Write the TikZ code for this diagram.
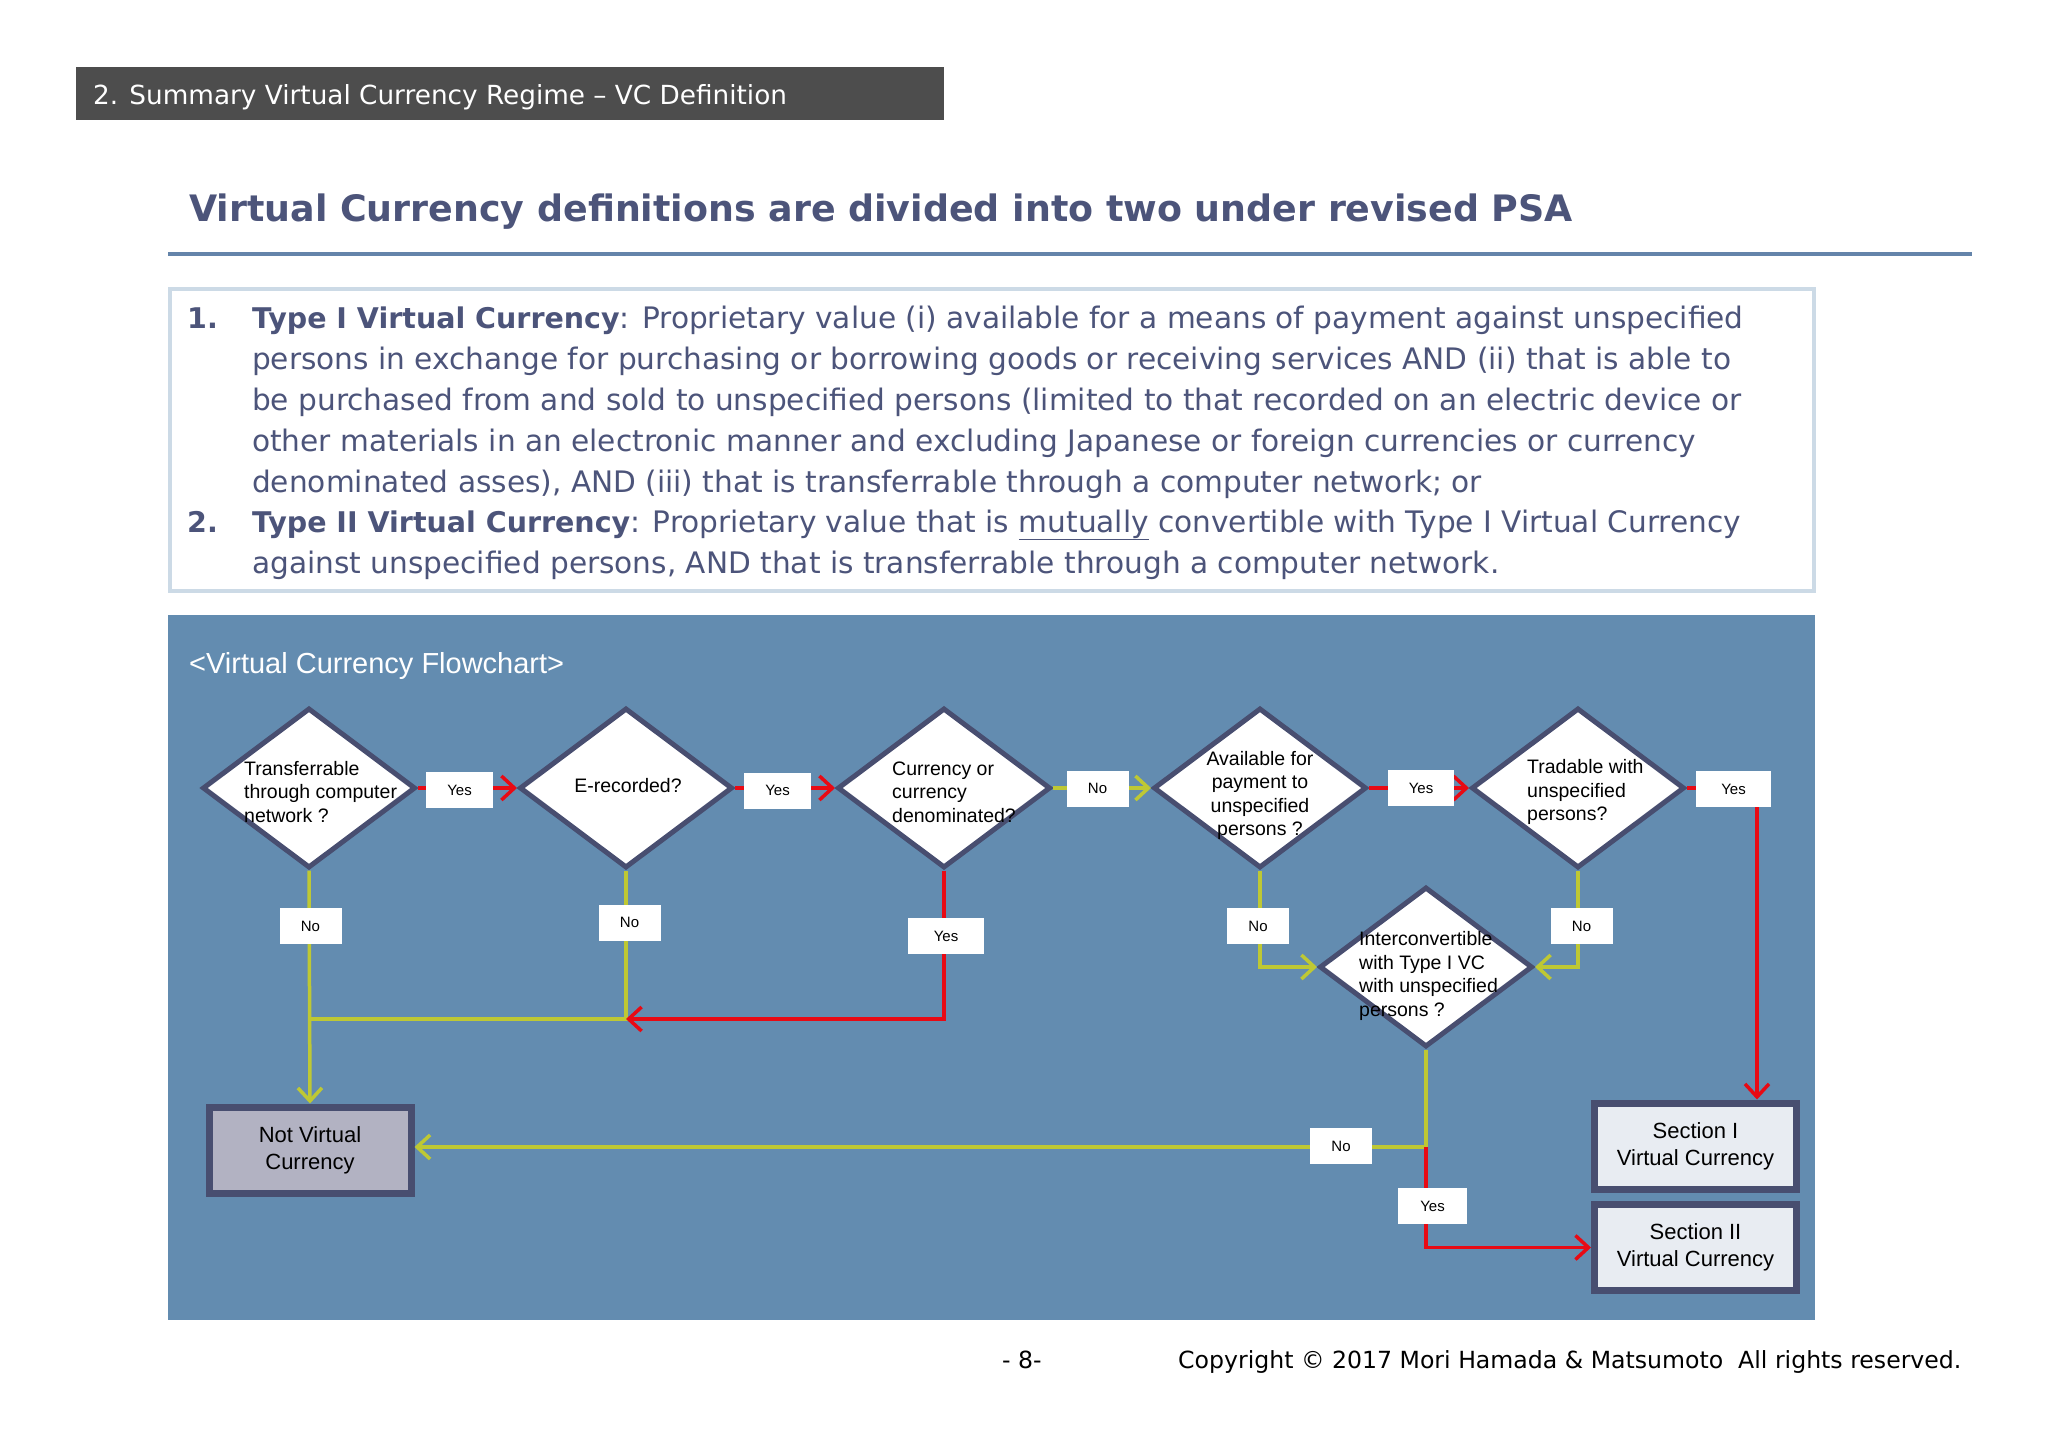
\documentclass[tikz,border=0pt]{standalone}
\usepackage{fontspec}
\setmainfont{DejaVu Sans}
\newfontfamily\arialf{Liberation Sans}
\newfontfamily\verdf{DejaVu Sans}
\usetikzlibrary{shapes.geometric,arrows.meta}
\newcommand\fsz[2]{\fontsize{#1pt}{#2pt}\selectfont}
\newcommand\bterm[1]{{\bfseries\fsz{28.5}{40}#1}}
\definecolor{hdr}{RGB}{77,77,77}
\definecolor{titleblue}{RGB}{76,84,122}
\definecolor{rulecol}{RGB}{100,132,170}
\definecolor{boxborder}{RGB}{204,218,230}
\definecolor{panel}{RGB}{99,140,176}
\definecolor{diaborder}{RGB}{72,78,112}
\definecolor{ygreen}{RGB}{190,200,52}
\definecolor{vred}{RGB}{232,10,20}
\definecolor{nvfill}{RGB}{178,178,194}
\definecolor{secfill}{RGB}{232,236,242}
\tikzset{
  dia/.style={diamond, draw=diaborder, line width=5pt, fill=white, minimum width=213pt, minimum height=160pt, inner sep=0pt},
  dtxt/.style={font=\arialf\fsz{19.5}{23.5}, text=black, inner sep=0pt},
  lab/.style={fill=white, font=\arialf\fsz{15}{18}, inner sep=0pt, minimum height=36pt, minimum width=62pt},
  res/.style={draw=diaborder, line width=7pt, font=\arialf\fsz{22}{27}, inner sep=0pt, align=center, minimum width=202pt, minimum height=86pt},
  yl/.style={draw=ygreen, line width=3.5pt},
  rl/.style={draw=vred, line width=3.5pt},
  arr/.style={-{Straight Barb[length=13pt,width=24pt]}},
  body/.style={anchor=base west, inner sep=0pt, text=titleblue, font=\fsz{29.6}{40}}
}
\begin{document}
\begin{tikzpicture}[x=1pt,y=-1pt]
\useasboundingbox (0,0) rectangle (2048,1448);
\fill[white] (0,0) rectangle (2048,1448);
% header
\fill[hdr] (76,67) rectangle (944,120);
\node[anchor=base west, inner sep=0pt, text=white, font=\fsz{26.3}{30}] (hdrtxt) at (93,104) {2. Summary Virtual Currency Regime -- VC Definition};
% title
\node[anchor=base west, inner sep=0pt, text=titleblue, font=\bfseries\fsz{36.4}{44}] (title) at (189,221) {Virtual Currency definitions are divided into two under revised PSA};
\draw[rulecol, line width=4pt] (168,254) -- (1972,254);
% text box
\draw[boxborder, line width=4pt] (170,289) rectangle (1814,591);
\node[body, font=\bfseries\fsz{28.5}{40}] (n1) at (187,328) {1.};
\node[body] (l1) at (252,328) {\bterm{Type I Virtual Currency}: Proprietary value (i) available for a means of payment against unspecified};
\node[body] (l2) at (252,369) {persons in exchange for purchasing or borrowing goods or receiving services AND (ii) that is able to};
\node[body] (l3) at (252,410) {be purchased from and sold to unspecified persons (limited to that recorded on an electric device or};
\node[body] (l4) at (252,451) {other materials in an electronic manner and excluding Japanese or foreign currencies or currency};
\node[body] (l5) at (252,492) {denominated asses), AND (iii) that is transferrable through a computer network; or};
\node[body, font=\bfseries\fsz{28.5}{40}] (n2) at (187,532) {2.};
\node[body] (l6) at (252,532) {\bterm{Type II Virtual Currency}: Proprietary value that is \underline{mutually} convertible with Type I Virtual Currency};
\node[body] (l7) at (252,573) {against unspecified persons, AND that is transferrable through a computer network.};
% panel
\fill[panel] (168,615) rectangle (1815,1320);
\node[anchor=base west, inner sep=0pt, text=white, font=\arialf\fsz{29}{34}] (fctitle) at (189,673) {<Virtual Currency Flowchart>};
% diamonds
\node[dia] (d1) at (309,788) {};
\node[dia] (d2) at (626,788) {};
\node[dia] (d3) at (944,788) {};
\node[dia] (d4) at (1260,788) {};
\node[dia] (d5) at (1578,788) {};
\node[dia] (d6) at (1426,967) {};
\node[dtxt, anchor=west, align=left] (t1) at (244,792) {Transferrable\\through computer\\network ?};
\node[dtxt] (t2) at (628,786) {E-recorded?};
\node[dtxt, anchor=west, align=left] (t3) at (892,792) {Currency or\\currency\\denominated?};
\node[dtxt, align=center] (t4) at (1260,795.5) {Available for\\payment to\\unspecified\\persons ?};
\node[dtxt, anchor=west, align=left] (t5) at (1527,792) {Tradable with\\unspecified\\persons?};
\node[dtxt, anchor=west, align=left] (t6) at (1359,976) {Interconvertible\\with Type I VC\\with unspecified\\persons ?};
% result boxes
\node[res, fill=nvfill] (nv) at (310,1150) {Not Virtual\\Currency};
\node[res, fill=secfill] (s1) at (1695.5,1146) {Section I\\Virtual Currency};
\node[res, fill=secfill] (s2) at (1695.5,1247.5) {Section II\\Virtual Currency};
% coordinates
\coordinate (j1) at (309,1019);
\coordinate (j2) at (626,1019);
\coordinate (c5) at (1757,788);
\coordinate (k) at (1426,1147);
% connectors
\draw[rl,arr] (d1.east) -- (d2.west);
\draw[rl,arr] (d2.east) -- (d3.west);
\draw[yl,arr] (d3.east) -- (d4.west);
\draw[rl,arr] (d4.east) -- (d5.west);
\draw[rl,arr] (d5.east) -- (c5) -- (c5 |- s1.north);
\draw[yl,arr] (d1.south) -- (nv.north);
\draw[yl] (d2.south) |- (j1);
\draw[rl,arr] (d3.south) |- (j2);
\draw[yl,arr] (d4.south) |- (d6.west);
\draw[yl,arr] (d5.south) |- (d6.east);
\draw[yl] (d6.south) -- (k);
\draw[yl,arr] (k) -- (k -| nv.east);
\draw[rl,arr] (k) |- (s2.west);
% labels
\node[lab, minimum width=67pt] (y1) at (459.5,790) {Yes};
\node[lab, minimum width=67pt] (y2) at (777.5,790.5) {Yes};
\node[lab] (no1) at (310.5,926) {No};
\node[lab] (no2) at (629.5,922.5) {No};
\node[lab, minimum width=76pt] (y3) at (946,936) {Yes};
\node[lab] (no3) at (1097.5,788.5) {No};
\node[lab, minimum width=66pt] (y4) at (1421,788) {Yes};
\node[lab, minimum width=75pt] (y5) at (1733.5,789) {Yes};
\node[lab] (no4) at (1258,926) {No};
\node[lab] (no5) at (1581.5,926) {No};
\node[lab] (no6) at (1341,1146) {No};
\node[lab, minimum width=69pt] (y6) at (1432.5,1206) {Yes};
% footer
\node[anchor=base west, inner sep=0pt, font=\verdf\fsz{23.6}{28}] (pg) at (1002,1368) {- 8-};
\node[anchor=base west, inner sep=0pt, font=\verdf\fsz{23.6}{28}] (copy) at (1178,1368) {Copyright \textcopyright{} 2017 Mori Hamada \& Matsumoto\ \ All rights reserved.};
\end{tikzpicture}
\end{document}
